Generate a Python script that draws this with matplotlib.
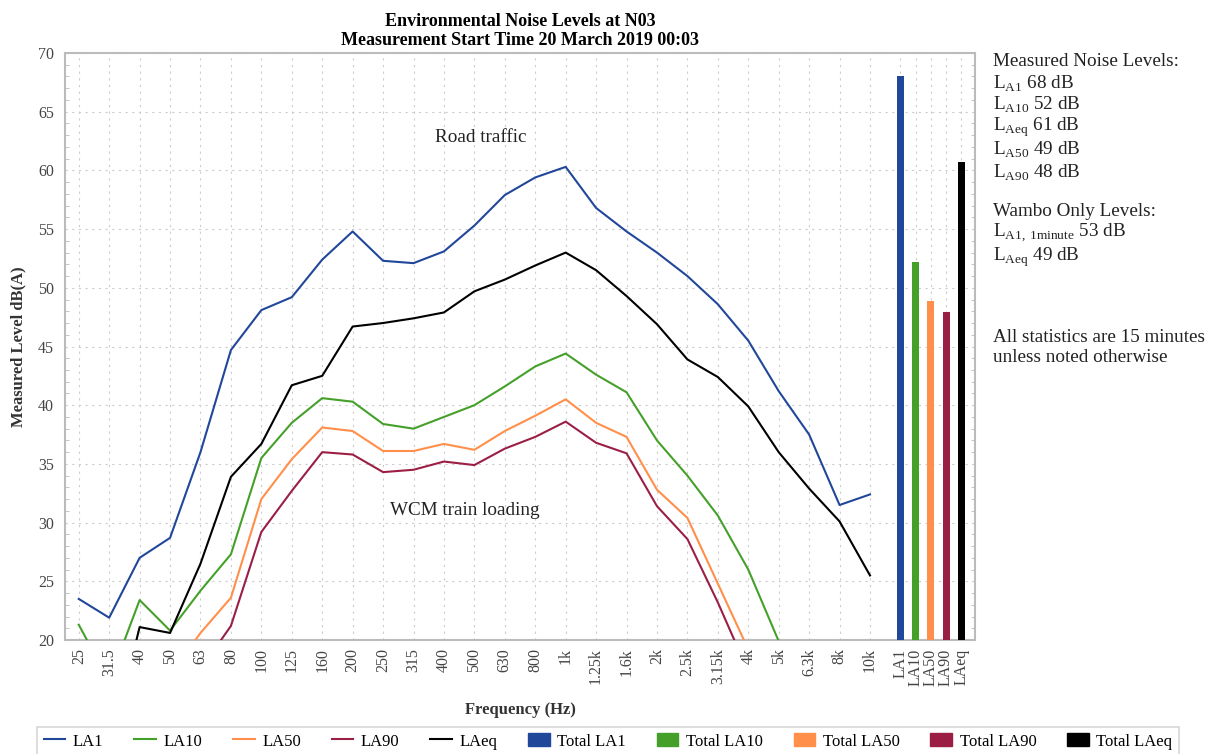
import numpy as np
import matplotlib
matplotlib.use("Agg")
import matplotlib.pyplot as plt
from matplotlib.patches import Patch
from matplotlib.lines import Line2D
from matplotlib.ticker import MultipleLocator

plt.rcParams['font.family'] = ['Liberation Serif', 'DejaVu Serif']
plt.rcParams['mathtext.fontset'] = 'custom'
plt.rcParams['mathtext.rm'] = 'Liberation Serif'

# third-octave bands
freqs = ['25', '31.5', '40', '50', '63', '80', '100', '125', '160', '200', '250', '315',
         '400', '500', '630', '800', '1k', '1.25k', '1.6k', '2k', '2.5k', '3.15k', '4k',
         '5k', '6.3k', '8k', '10k']

la1 = [23.5, 21.9, 27.0, 28.7, 36.0, 44.7, 48.1, 49.2, 52.4, 54.8, 52.3, 52.1, 53.1, 55.3,
       57.9, 59.4, 60.3, 56.8, 54.8, 53.0, 51.0, 48.6, 45.5, 41.2, 37.5, 31.5, 32.4]
la10 = [21.3, 16.5, 23.4, 20.8, 24.2, 27.3, 35.5, 38.5, 40.6, 40.3, 38.4, 38.0, 39.0, 40.0,
        41.6, 43.3, 44.4, 42.6, 41.1, 37.0, 34.0, 30.6, 26.0, 19.9, 15.0, 12.0, 11.0]
la50 = [15.0, 14.0, 16.0, 17.0, 20.6, 23.6, 32.0, 35.4, 38.1, 37.8, 36.1, 36.1, 36.7, 36.2,
        37.8, 39.1, 40.5, 38.5, 37.3, 32.8, 30.4, 24.8, 19.2, 14.0, 11.0, 9.0, 8.0]
la90 = [12.0, 11.0, 12.0, 13.0, 17.5, 21.2, 29.2, 32.7, 36.0, 35.8, 34.3, 34.5, 35.2, 34.9,
        36.3, 37.3, 38.6, 36.8, 35.9, 31.4, 28.6, 23.2, 17.3, 12.0, 10.0, 8.0, 7.0]
laeq = [15.0, 10.5, 21.1, 20.6, 26.5, 33.9, 36.7, 41.7, 42.5, 46.7, 47.0, 47.4, 47.9, 49.7,
        50.7, 51.9, 53.0, 51.5, 49.3, 46.9, 43.9, 42.4, 39.9, 36.0, 32.9, 30.1, 25.5]

total_labels = ['LA1', 'LA10', 'LA50', 'LA90', 'LAeq']
total_values = [68.0, 52.2, 48.9, 47.9, 60.7]

colors = ['#21479b', '#45a02a', '#ff8f4a', '#9b1f45', '#000000']

fig = plt.figure(figsize=(12.16, 7.54), dpi=100)
ax = fig.add_axes([0.0535, 0.1512, 0.7483, 0.7785])

x = np.arange(len(freqs))
series = [la1, la10, la50, la90, laeq]
for vals, col, lab in zip(series, colors, total_labels):
    ax.plot(x, vals, color=col, lw=1.5, label=lab, zorder=3)

# the totals sit at half steps after the last band
xb = len(freqs) + 0.5 * np.arange(len(total_values))
ax.bar(xb, total_values, width=0.23, color=colors, zorder=3)

ax.set_xlim(-0.45, xb[-1] + 0.45)
ax.set_ylim(20, 70)
ax.set_xticks(list(x) + list(xb))
ax.set_xticklabels(freqs + total_labels, rotation=90, fontsize=11.5, color='#444444')
ax.yaxis.set_major_locator(MultipleLocator(5))
ax.yaxis.set_minor_locator(MultipleLocator(1))
ax.tick_params(axis='y', which='major', length=0, labelsize=11.5, labelcolor='#444444', pad=8)
ax.tick_params(axis='y', which='minor', direction='in', length=3, color='#bbbbbb',
               left=True, right=True)
ax.tick_params(axis='x', length=0, pad=6)

ax.grid(True, which='major', color='#cccccc', linestyle=(0, (2, 4)), lw=0.8)
for s in ax.spines.values():
    s.set_color('#bbbbbb')
    s.set_linewidth(1.5)

ax.set_xlabel('Frequency (Hz)', fontsize=12, fontweight='bold', color='#333333', labelpad=12)
ax.set_ylabel('Measured Level dB(A)', fontsize=12, fontweight='bold', color='#333333', labelpad=8)
ax.set_title('Environmental Noise Levels at N03\nMeasurement Start Time 20 March 2019 00:03',
             fontsize=13, fontweight='bold', linespacing=1.15, pad=6)

ax.text(13.2, 62.8, 'Road traffic', fontsize=13.8, ha='center', va='center', color='#222222')
ax.text(12.7, 31.0, 'WCM train loading', fontsize=13.8, ha='center', va='center', color='#222222')

# side notes
notes = [
    (61, 'Measured Noise Levels:'),
    (84, r'L$_{\mathrm{A1}}$ 68 dB'),
    (105, r'L$_{\mathrm{A10}}$ 52 dB'),
    (127, r'L$_{\mathrm{Aeq}}$ 61 dB'),
    (150, r'L$_{\mathrm{A50}}$ 49 dB'),
    (173, r'L$_{\mathrm{A90}}$ 48 dB'),
    (212, 'Wambo Only Levels:'),
    (233, r'L$_{\mathrm{A1,\,1minute}}$ 53 dB'),
    (257, r'L$_{\mathrm{Aeq}}$ 49 dB'),
    (338, 'All statistics are 15 minutes'),
    (357, 'unless noted otherwise'),
]
for py, txt in notes:
    fig.text(993 / 1216, 1 - py / 754, txt, fontsize=13.8, ha='left', va='center', color='#222222')

handles = [Line2D([], [], color=c, lw=1.5) for c in colors]
handles += [Patch(color=c) for c in colors]
labels = total_labels + ['Total ' + t for t in total_labels]
leg = fig.legend(handles, labels, loc='lower center', bbox_to_anchor=(0.5, -0.014), ncol=10,
                 fontsize=12, frameon=True, fancybox=False, handlelength=1.3,
                 handleheight=0.8, columnspacing=1.85, handletextpad=0.45, borderpad=0.4)
leg.get_frame().set_edgecolor('#cccccc')
leg.get_frame().set_linewidth(1.2)

fig.savefig('out.png', dpi=100)
